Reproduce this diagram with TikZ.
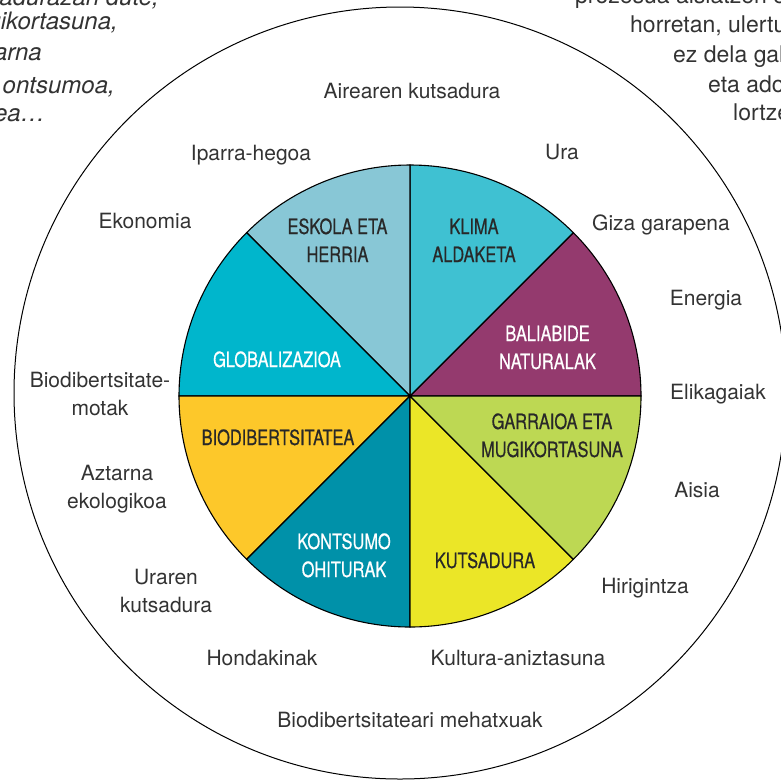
\documentclass[tikz,border=0pt]{standalone}
\usepackage{fontspec}
\setmainfont{TeX Gyre Heros}
\newfontfamily\cndfont[FakeStretch=0.78, FakeBold=0.6]{TeX Gyre Heros}
\usepackage{xcolor}
\usetikzlibrary{positioning}

\definecolor{eskola}{HTML}{88C7D6}
\definecolor{klima}{HTML}{3FC1D2}
\definecolor{baliabide}{HTML}{943A6E}
\definecolor{garraio}{HTML}{BDD853}
\definecolor{kutsadura}{HTML}{EBE627}
\definecolor{kontsumo}{HTML}{0091A9}
\definecolor{biodib}{HTML}{FDC82A}
\definecolor{global}{HTML}{00B6CC}
\definecolor{inktext}{HTML}{333333}
\definecolor{topictext}{HTML}{282828}

\tikzset{
  sector/.style={draw=black, line width=1.1pt},
  topic/.style={font=\cndfont\fontsize{21}{28}\selectfont, text=topictext, align=center, inner sep=0pt},
  issue/.style={font=\fontsize{21}{27.5}\selectfont, text=inktext, align=center, inner sep=0pt},
  margintext/.style={font=\fontsize{23}{30}\selectfont, text=inktext, inner sep=0pt},
  marginit/.style={margintext, font=\fontsize{24}{30}\selectfont\itshape},
}

\begin{document}
\begin{tikzpicture}[x=1pt, y=1pt]
\useasboundingbox (0,0) rectangle (781,-780);
\clip (0,0) rectangle (781,-780);

% cut-off text of the page around
\node[marginit, anchor=base east] (tl1) at (159,-5) {kutsadurazan dute,};
\node[marginit, anchor=base east] (tl2) at (118,-29) {gikortasuna,};
\node[marginit, anchor=base east] (tl3) at (42,-60) {arna};
\node[marginit, anchor=base east] (tl4) at (115,-93) {ontsumoa,};
\node[marginit, anchor=base east] (tl5) at (45,-121) {ea…};
\node[margintext, anchor=base west] (tr1) at (575,-3) {prozesua aisiatzen eta};
\node[margintext, anchor=base west] (tr2) at (630,-32) {horretan, ulertu};
\node[margintext, anchor=base west] (tr3) at (673,-62) {ez dela galtzen};
\node[margintext, anchor=base west] (tr4) at (708,-92) {eta adostasuna};
\node[margintext, anchor=base west] (tr5) at (733,-120) {lortzen};

% outer ring
\draw[line width=1pt] (400,-393) circle[radius=386];

% the pie
\coordinate (c) at (410,-396);
\filldraw[sector, fill=baliabide] (c) -- ++(0:231) arc[start angle=0, end angle=45, radius=231] -- cycle;
\filldraw[sector, fill=klima] (c) -- ++(45:231) arc[start angle=45, end angle=90, radius=231] -- cycle;
\filldraw[sector, fill=eskola] (c) -- ++(90:231) arc[start angle=90, end angle=135, radius=231] -- cycle;
\filldraw[sector, fill=global] (c) -- ++(135:231) arc[start angle=135, end angle=180, radius=231] -- cycle;
\filldraw[sector, fill=biodib] (c) -- ++(180:231) arc[start angle=180, end angle=225, radius=231] -- cycle;
\filldraw[sector, fill=kontsumo] (c) -- ++(225:231) arc[start angle=225, end angle=270, radius=231] -- cycle;
\filldraw[sector, fill=kutsadura] (c) -- ++(270:231) arc[start angle=270, end angle=315, radius=231] -- cycle;
\filldraw[sector, fill=garraio] (c) -- ++(315:231) arc[start angle=315, end angle=360, radius=231] -- cycle;

% base of a two-line node is its last line
\node[topic, anchor=base] (eskolaherria) at (337.5,-262) {ESKOLA ETA\\HERRIA};
\node[topic, anchor=base] (klimaaldaketa) at (474,-262) {KLIMA\\ALDAKETA};
\node[topic, anchor=base, text=white] (baliabideak) at (547.5,-369) {BALIABIDE\\NATURALAK};
\node[topic, anchor=base, text=white] (globalizazioa) at (277,-367) {GLOBALIZAZIOA};
\node[topic, anchor=base] (biodibertsitatea) at (278,-445) {BIODIBERTSITATEA};
\node[topic, anchor=base] (garraioa) at (552,-457) {GARRAIOA ETA\\MUGIKORTASUNA};
\node[topic, anchor=base, text=white] (kontsumoa) at (344,-577) {KONTSUMO\\OHITURAK};
\node[topic, anchor=base] (kutsadurak) at (485,-568) {KUTSADURA};

% issues in the ring
\node[issue, anchor=base] (airea) at (412,-98) {Airearen kutsadura};
\node[issue, anchor=base] (iparra) at (251,-160) {Iparra-hegoa};
\node[issue, anchor=base] (ura) at (562,-159) {Ura};
\node[issue, anchor=base] (ekonomia) at (145,-228) {Ekonomia};
\node[issue, anchor=base] (giza) at (661,-230) {Giza garapena};
\node[issue, anchor=base] (energia) at (706,-305) {Energia};
\node[issue, anchor=base] (motak) at (100,-415) {Biodibertsitate-\\motak};
\node[issue, anchor=base] (elikagaiak) at (718,-399) {Elikagaiak};
\node[issue, anchor=base] (aztarna) at (117,-508) {Aztarna\\ekologikoa};
\node[issue, anchor=base] (aisia) at (697,-497) {Aisia};
\node[issue, anchor=base] (uraren) at (166,-612) {Uraren\\kutsadura};
\node[issue, anchor=base] (hirigintza) at (645,-593) {Hirigintza};
\node[issue, anchor=base] (hondakinak) at (262,-665) {Hondakinak};
\node[issue, anchor=base] (kultura) at (518,-665) {Kultura-aniztasuna};
\node[issue, anchor=base] (mehatxuak) at (410,-727) {Biodibertsitateari mehatxuak};
\end{tikzpicture}
\end{document}
